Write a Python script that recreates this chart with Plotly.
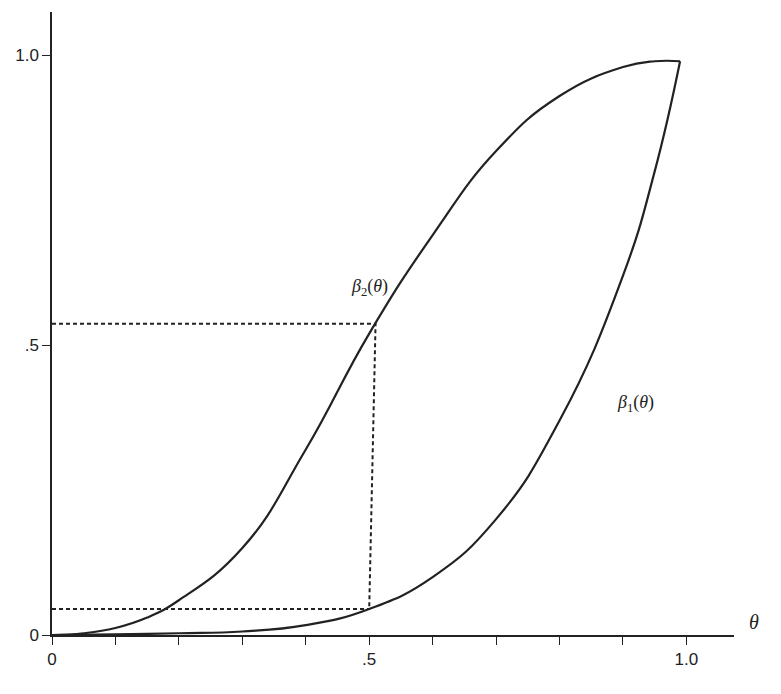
import plotly.graph_objects as go

theta = [0, 0.05, 0.1, 0.15, 0.2, 0.3, 0.4, 0.5, 0.6, 0.7, 0.8, 0.9, 0.95, 0.99]
beta2 = [0, 0.003, 0.012, 0.03, 0.06, 0.15, 0.32, 0.52, 0.69, 0.835, 0.93, 0.98, 0.99, 0.99]
theta1 = [0, 0.1, 0.2, 0.3, 0.4, 0.5, 0.6, 0.7, 0.8, 0.9, 0.95, 0.99]
beta1 = [0, 0.001, 0.003, 0.006, 0.017, 0.045, 0.1, 0.2, 0.37, 0.62, 0.8, 0.99]
dot_h = [0.537, 0.045]
dot_x = [0.51, 0.5]

fig = go.Figure()
ln = dict(color="#222", width=2.2, shape="spline", smoothing=1.3)
fig.add_trace(go.Scatter(x=theta, y=beta2, mode="lines", line=ln))
fig.add_trace(go.Scatter(x=theta1, y=beta1, mode="lines", line=ln))
dl = dict(color="#222", width=2, dash="4px,3px")
fig.add_trace(go.Scatter(x=[0, dot_x[0], dot_x[1]], y=[dot_h[0], dot_h[0], dot_h[1]], mode="lines", line=dl))
fig.add_trace(go.Scatter(x=[0, dot_x[1]], y=[dot_h[1], dot_h[1]], mode="lines", line=dl))
f = dict(family="Liberation Serif", size=18, color="#222")
fig.add_annotation(x=0.5, y=0.6, text="<i>β</i><sub>2</sub>(<i>θ</i>)", showarrow=False, font=f, xanchor="center")
fig.add_annotation(x=0.92, y=0.4, text="<i>β</i><sub>1</sub>(<i>θ</i>)", showarrow=False, font=f, xanchor="center")
fig.add_annotation(x=1.03, y=0.0, xref="paper", yref="y", text="<i>θ</i>", showarrow=False,
                   font=dict(family="Liberation Serif", size=20, color="#222"), xanchor="center", yanchor="bottom")
fig.update_layout(
    width=781, height=694, showlegend=False, plot_bgcolor="white", paper_bgcolor="white",
    margin=dict(l=44, r=55, t=4, b=67, autoexpand=False),
    font=dict(family="Liberation Sans", size=17, color="#222"),
    xaxis=dict(range=[0, 1.075], tickvals=[0, 0.5, 1.0], ticktext=["0", ".5", "1.0"],
               showgrid=False, zeroline=False, showline=True, linecolor="#222", linewidth=1.5,
               ticks="outside", ticklen=8, tickcolor="#222",
               minor=dict(tickvals=[0.1, 0.2, 0.3, 0.4, 0.6, 0.7, 0.8, 0.9], ticks="outside", ticklen=8, tickcolor="#222")),
    yaxis=dict(range=[0, 1.075], tickvals=[0, 0.5, 1.0], ticktext=["0", ".5", "1.0"],
               showgrid=False, zeroline=False, showline=True, linecolor="#222", linewidth=1.5,
               ticks="outside", ticklen=8, tickcolor="#222"),
)
fig.write_html("out.html")
